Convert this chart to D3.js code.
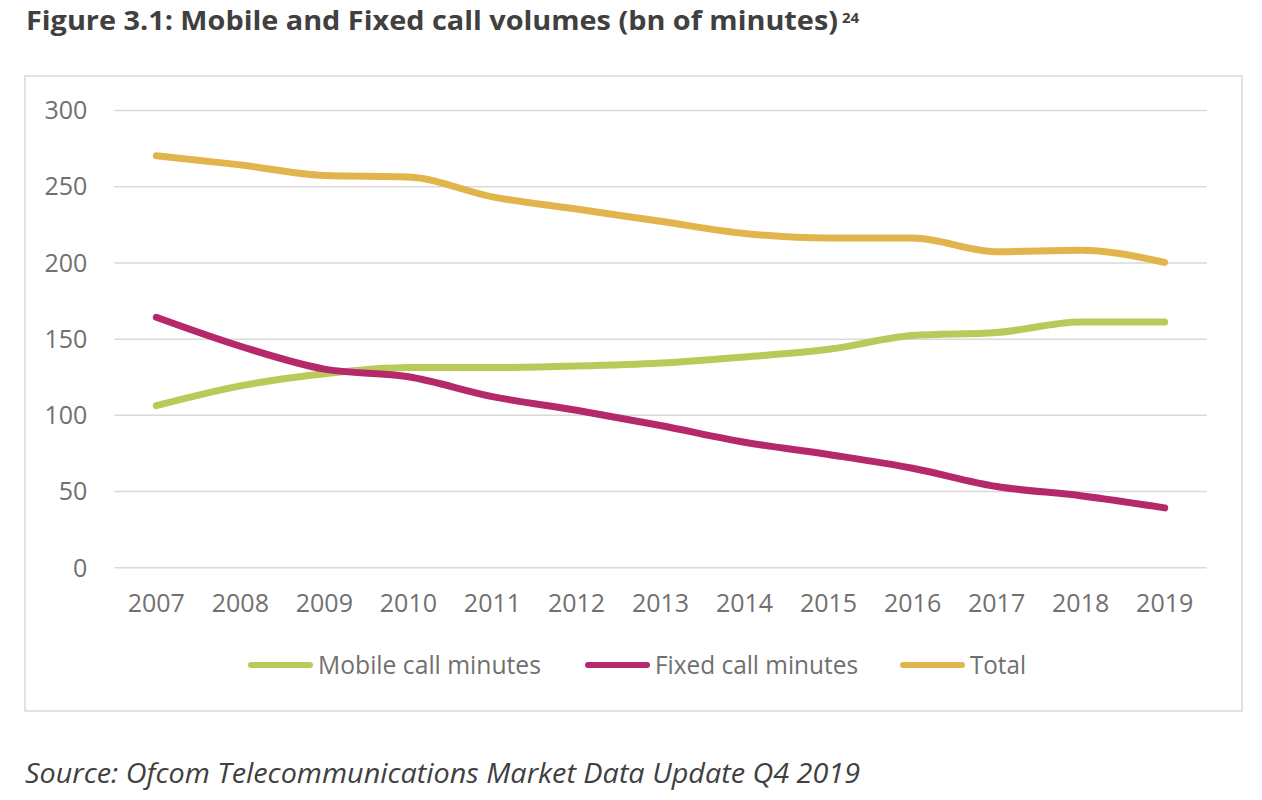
<!DOCTYPE html>
<html>
<head>
<meta charset="utf-8">
<script src="https://cdn.jsdelivr.net/npm/d3@7"></script>
<style>
  body { margin: 0; background: #fff; }
  svg { display: block; }
</style>
</head>
<body>
<div id="chart"></div>
<script>
// chart values
var years = ["2007","2008","2009","2010","2011","2012","2013","2014","2015","2016","2017","2018","2019"];
var mobile = [106, 119, 127, 131, 131, 132, 134, 138, 143, 152, 154, 161, 161];
var fixed = [164, 145, 130, 125, 112, 103, 93, 82, 74, 65, 53, 47, 39];
var total = [270, 264, 257, 256, 243, 235, 227, 219, 216, 216, 207, 208, 200];
var yTicks = [0, 50, 100, 150, 200, 250, 300];
var seriesNames = ["Mobile call minutes", "Fixed call minutes", "Total"];

var colors = ["#b9ca5b", "#b5296a", "#e2b54c"];
var width = 1262, height = 800;
var font = "'Open Sans', 'DejaVu Sans', sans-serif";

var svg = d3.select("#chart").append("svg")
  .attr("width", width).attr("height", height)
  .style("font-family", font);

// title
svg.append("text")
  .attr("x", 26).attr("y", 29.5)
  .attr("fill", "#404040")
  .attr("font-weight", "bold")
  .attr("font-size", 27)
  .attr("textLength", 812).attr("lengthAdjust", "spacingAndGlyphs")
  .text("Figure 3.1: Mobile and Fixed call volumes (bn of minutes)");
svg.append("text")
  .attr("x", 842).attr("y", 23)
  .attr("fill", "#404040").attr("font-weight", "bold")
  .attr("font-size", 15)
  .text("24");

// frame
svg.append("rect")
  .attr("x", 25).attr("y", 76)
  .attr("width", 1217).attr("height", 635)
  .attr("fill", "none").attr("stroke", "#d9d9d9").attr("stroke-width", 1.5);

var x = d3.scaleBand().domain(years).range([114.3, 1206.7]).padding(0);
var y = d3.scaleLinear().domain([0, 300]).range([567.3, 110]);
var cx = function (d) { return x(d) + x.bandwidth() / 2; };

// gridlines + y labels
var yAxis = svg.append("g")
  .attr("transform", "translate(114.3,0)")
  .call(d3.axisLeft(y).tickValues(yTicks).tickSize(-1092.4).tickPadding(27));
yAxis.select(".domain").remove();
yAxis.selectAll("line").attr("stroke", "#d9d9d9").attr("stroke-width", 1.5);
yAxis.selectAll("text")
  .attr("fill", "#707070").attr("font-size", 25)
  .style("font-family", font).attr("dy", "0.35em");

// x labels
var xAxis = svg.append("g")
  .attr("transform", "translate(0,567.3)")
  .call(d3.axisBottom(x).tickSize(0).tickPadding(0));
xAxis.select(".domain").remove();
xAxis.selectAll("text")
  .attr("fill", "#707070").attr("font-size", 25)
  .style("font-family", font)
  .attr("dy", null).attr("y", 45);

// lines
var series = [mobile, fixed, total];
var line = d3.line()
  .x(function (d, i) { return cx(years[i]); })
  .y(function (d) { return y(d); })
  .curve(d3.curveMonotoneX);

svg.append("g").selectAll("path")
  .data(series)
  .join("path")
  .attr("d", function (d) { return line(d); })
  .attr("fill", "none")
  .attr("stroke", function (d, i) { return colors[i]; })
  .attr("stroke-width", 7)
  .attr("stroke-linecap", "round")
  .attr("stroke-linejoin", "round");

// legend
var legendX = [248, 585, 900];
var legendW = [223, 203, 56];
var lg = svg.append("g").selectAll("g")
  .data(seriesNames)
  .join("g")
  .attr("transform", function (d, i) { return "translate(" + legendX[i] + ",665)"; });
lg.append("line")
  .attr("x1", 3).attr("x2", 62).attr("y1", 0).attr("y2", 0)
  .attr("stroke", function (d, i) { return colors[i]; })
  .attr("stroke-width", 6).attr("stroke-linecap", "round");
lg.append("text")
  .attr("x", 70).attr("y", 9)
  .attr("fill", "#707070").attr("font-size", 25)
  .attr("textLength", function (d, i) { return legendW[i]; })
  .attr("lengthAdjust", "spacingAndGlyphs")
  .text(function (d) { return d; });

// source
svg.append("text")
  .attr("x", 25).attr("y", 783)
  .attr("fill", "#404040").attr("font-style", "italic")
  .attr("font-size", 28)
  .attr("textLength", 835).attr("lengthAdjust", "spacingAndGlyphs")
  .text("Source: Ofcom Telecommunications Market Data Update Q4 2019");
</script>
</body>
</html>
